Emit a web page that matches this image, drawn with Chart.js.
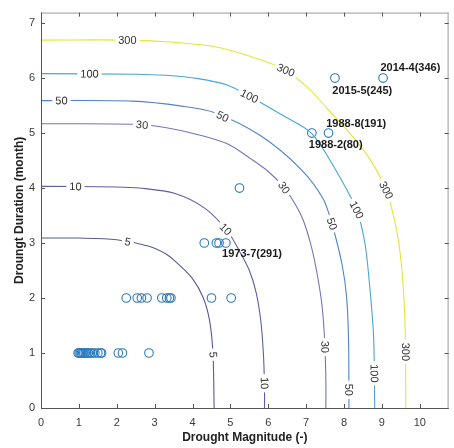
<!DOCTYPE html>
<html>
<head>
<meta charset="utf-8">
<script src="https://cdn.jsdelivr.net/npm/chart.js@4"></script>
<style>
  html, body { margin: 0; padding: 0; background: #fff; }
  #wrap { width: 454px; height: 448px; }
</style>
</head>
<body>
<div id="wrap"><canvas id="rpChart" width="454" height="448"></canvas></div>
<script>
// return period contours (years), magnitude vs duration
const rp5Mag = [0, 1.0, 2.0, 2.85, 3.3, 3.54, 3.98, 4.28, 4.45, 4.54, 4.57];
const rp5Dur = [3.09, 3.09, 3.06, 2.94, 2.8, 2.67, 2.37, 2.01, 1.59, 0.99, 0];

const rp10Mag = [0, 2.0, 2.6, 3.54, 4.33, 4.93, 5.24, 5.5, 5.68, 5.8, 5.87, 5.9, 5.9];
const rp10Dur = [4.03, 4.02, 4.0, 3.9, 3.63, 3.21, 2.85, 2.5, 2.1, 1.6, 1.0, 0.4, 0];

const rp30Mag = [0, 2.5, 3.28, 4.15, 4.93, 5.54, 6.0, 6.4, 6.7, 6.93, 7.15, 7.3, 7.42, 7.49, 7.52, 7.52];
const rp30Dur = [5.17, 5.16, 5.1, 4.97, 4.8, 4.53, 4.3, 4.02, 3.72, 3.4, 2.9, 2.4, 1.85, 1.2, 0.5, 0];

const rp50Mag = [0, 2.41, 3.72, 4.59, 5.8, 6.85, 7.45, 7.7, 7.95, 8.07, 8.12, 8.13];
const rp50Dur = [5.59, 5.58, 5.49, 5.37, 4.95, 4.35, 3.8, 3.3, 2.6, 2.0, 1.2, 0];

const rp100Mag = [0, 2.5, 3.28, 4.15, 4.93, 5.5, 6.41, 7.15, 7.81, 8.33, 8.55, 8.68, 8.78, 8.81];
const rp100Dur = [6.08, 6.07, 6.05, 5.99, 5.87, 5.67, 5.31, 4.99, 4.29, 3.6, 3.0, 2.19, 1.3, 0];

const rp300Mag = [0, 2.3, 3.5, 4.67, 5.72, 6.46, 7.11, 7.55, 8.15, 8.68, 9.11, 9.37, 9.5, 9.58, 9.62, 9.63];
const rp300Dur = [6.69, 6.69, 6.65, 6.56, 6.35, 6.14, 5.78, 5.45, 5.0, 4.53, 3.96, 3.3, 2.7, 2.0, 1.2, 0];

const levels = [5, 10, 30, 50, 100, 300];
const levelColors = ['#58589a', '#5e5ea6', '#7474bb', '#4f82c6', '#47a6d6', '#e4e43a'];

// inline contour labels
const labelLevel = [5, 5, 10, 10, 10, 30, 30, 30, 50, 50, 50, 50, 100, 100, 100, 100, 300, 300, 300, 300];
const labelMag = [2.3, 4.56, 0.91, 4.89, 5.89, 2.67, 6.4, 7.52, 0.54, 4.8, 7.68, 8.13, 1.28, 5.5, 8.33, 8.81, 2.28, 6.46, 9.11, 9.63];
const labelDur = [3.05, 0.97, 4.03, 3.26, 0.45, 5.16, 4.0, 1.11, 5.59, 5.31, 3.35, 0.33, 6.08, 5.67, 3.6, 0.63, 6.69, 6.14, 3.96, 1.02];

// observed drought events
const eventMag = [0.98, 1.01, 1.04, 1.07, 1.1, 1.13, 1.17, 1.21, 1.25, 1.3, 1.35, 1.42, 1.5, 1.57, 1.6, 2.04, 2.15, 2.85,
                  2.25, 2.54, 2.65, 2.8, 3.19, 3.32, 3.39, 3.43, 4.5, 5.02,
                  4.31, 4.63, 4.7, 4.88,
                  5.24,
                  7.15, 7.59,
                  7.76, 9.03];
const eventDur = [1, 1, 1, 1, 1, 1, 1, 1, 1, 1, 1, 1, 1, 1, 1, 1, 1, 1,
                  2, 2, 2, 2, 2, 2, 2, 2, 2, 2,
                  3, 3, 3, 3,
                  4,
                  5, 5,
                  6, 6];

// named events
const noteText = ['2014-4(346)', '2015-5(245)', '1988-8(191)', '1988-2(80)', '1973-7(291)'];
const noteMag = [8.96, 7.69, 7.53, 7.07, 4.78];
const noteDur = [6.19, 5.77, 5.17, 4.78, 2.81];

const xTicks = [0, 1, 2, 3, 4, 5, 6, 7, 8, 9, 10];
const yTicks = [0, 1, 2, 3, 4, 5, 6, 7];

const FONT = "'Liberation Sans', Arial, sans-serif";

function toPoints(xs, ys) {
    return xs.map((x, i) => ({ x: x, y: ys[i] }));
}

const contourSets = [
    [rp5Mag, rp5Dur], [rp10Mag, rp10Dur], [rp30Mag, rp30Dur],
    [rp50Mag, rp50Dur], [rp100Mag, rp100Dur], [rp300Mag, rp300Dur]
].map((c, i) => ({
    label: 'T=' + levels[i],
    data: toPoints(c[0], c[1]),
    showLine: true,
    borderColor: levelColors[i],
    borderWidth: 1.1,
    pointRadius: 0,
    tension: 0.3,
    fill: false
}));

// frame with inward ticks on all four sides
const framePlugin = {
    id: 'frame',
    afterDraw(chart) {
        const ctx = chart.ctx;
        const a = chart.chartArea;
        const xs = chart.scales.x, ys = chart.scales.y;
        ctx.save();
        ctx.lineWidth = 1;
        ctx.strokeStyle = '#9a9a9a';
        ctx.beginPath();
        ctx.moveTo(a.left, a.top + 0.5);
        ctx.lineTo(a.right, a.top + 0.5);
        ctx.moveTo(a.right - 0.5, a.top);
        ctx.lineTo(a.right - 0.5, a.bottom);
        ctx.stroke();
        ctx.strokeStyle = '#555';
        ctx.beginPath();
        ctx.moveTo(a.left + 0.5, a.top);
        ctx.lineTo(a.left + 0.5, a.bottom + 0.5);
        ctx.lineTo(a.right, a.bottom + 0.5);
        ctx.stroke();
        ctx.beginPath();
        xTicks.forEach(v => {
            const px = Math.round(xs.getPixelForValue(v)) + 0.5;
            ctx.moveTo(px, a.bottom);
            ctx.lineTo(px, a.bottom - 4);
            ctx.moveTo(px, a.top);
            ctx.lineTo(px, a.top + 4);
        });
        yTicks.forEach(v => {
            const py = Math.round(ys.getPixelForValue(v)) + 0.5;
            ctx.moveTo(a.left, py);
            ctx.lineTo(a.left + 4, py);
            ctx.moveTo(a.right, py);
            ctx.lineTo(a.right - 4, py);
        });
        ctx.stroke();
        ctx.restore();
    }
};

// contour value labels sitting in a gap along each curve
const contourLabelPlugin = {
    id: 'contourLabels',
    afterDatasetsDraw(chart) {
        const ctx = chart.ctx;
        const xs = chart.scales.x, ys = chart.scales.y;
        ctx.save();
        ctx.font = '11px ' + FONT;
        ctx.textAlign = 'center';
        ctx.textBaseline = 'middle';
        labelLevel.forEach((lev, k) => {
            const idx = levels.indexOf(lev);
            const meta = chart.getDatasetMeta(idx);
            const pts = meta.data.map(p => ({ x: p.x, y: p.y }));
            const tx = xs.getPixelForValue(labelMag[k]);
            const ty = ys.getPixelForValue(labelDur[k]);
            // nearest segment of the polyline
            let best = null;
            for (let i = 0; i < pts.length - 1; i++) {
                const p = pts[i], q = pts[i + 1];
                const dx = q.x - p.x, dy = q.y - p.y;
                const len2 = dx * dx + dy * dy || 1;
                let t = ((tx - p.x) * dx + (ty - p.y) * dy) / len2;
                t = Math.max(0, Math.min(1, t));
                const cx = p.x + t * dx, cy = p.y + t * dy;
                const d = (cx - tx) * (cx - tx) + (cy - ty) * (cy - ty);
                if (!best || d < best.d) best = { d: d, x: cx, y: cy, ang: Math.atan2(dy, dx) };
            }
            const txt = String(lev);
            const w = ctx.measureText(txt).width;
            ctx.save();
            ctx.translate(best.x, best.y);
            ctx.rotate(best.ang);
            ctx.fillStyle = '#fff';
            ctx.fillRect(-w / 2 - 3, -5, w + 6, 10);
            ctx.fillStyle = '#333';
            ctx.fillText(txt, 0, 0.5);
            ctx.restore();
        });
        ctx.restore();
    },
    afterDraw(chart) {
        const ctx = chart.ctx;
        const xs = chart.scales.x, ys = chart.scales.y;
        ctx.save();
        ctx.font = 'bold 11px ' + FONT;
        ctx.fillStyle = '#1a1a1a';
        ctx.textAlign = 'left';
        ctx.textBaseline = 'middle';
        noteText.forEach((t, i) => {
            ctx.fillText(t, xs.getPixelForValue(noteMag[i]), ys.getPixelForValue(noteDur[i]));
        });
        ctx.restore();
    }
};

window.onload = function () {
    const ctx = document.getElementById('rpChart').getContext('2d');

    new Chart(ctx, {
        type: 'scatter',
        data: {
            datasets: contourSets.concat([{
                label: 'Events',
                data: toPoints(eventMag, eventDur),
                pointStyle: 'circle',
                pointRadius: 4.3,
                borderColor: '#2a7abd',
                backgroundColor: 'rgba(0,0,0,0)',
                borderWidth: 1.1,
                showLine: false
            }])
        },
        options: {
            responsive: false,
            animation: false,
            layout: { padding: { top: 8, right: 1, left: 0, bottom: 0 } },
            plugins: {
                legend: { display: false },
                tooltip: { enabled: false }
            },
            scales: {
                x: {
                    type: 'linear',
                    min: 0,
                    max: 10.76,
                    afterBuildTicks: s => { s.ticks = xTicks.map(v => ({ value: v })); },
                    afterFit: s => { s.height = 40; },
                    grid: { display: false, drawTicks: false },
                    border: { display: false },
                    ticks: { color: '#3a3a3a', padding: 8, font: { family: FONT, size: 11 } },
                    title: {
                        display: true,
                        text: 'Drought Magnitude (-)',
                        color: '#222',
                        padding: { top: 0, bottom: 3 },
                        font: { family: FONT, size: 12, weight: 'bold' }
                    }
                },
                y: {
                    type: 'linear',
                    min: 0,
                    max: 7.19,
                    afterBuildTicks: s => { s.ticks = yTicks.map(v => ({ value: v })); },
                    afterFit: s => { s.width = 41; },
                    grid: { display: false, drawTicks: false },
                    border: { display: false },
                    ticks: { color: '#3a3a3a', padding: 6, font: { family: FONT, size: 11 } },
                    title: {
                        display: true,
                        text: 'Droungt Duration (month)',
                        color: '#222',
                        padding: { top: 12, bottom: 0 },
                        font: { family: FONT, size: 12, weight: 'bold' }
                    }
                }
            }
        },
        plugins: [framePlugin, contourLabelPlugin]
    });
};
</script>
</body>
</html>
